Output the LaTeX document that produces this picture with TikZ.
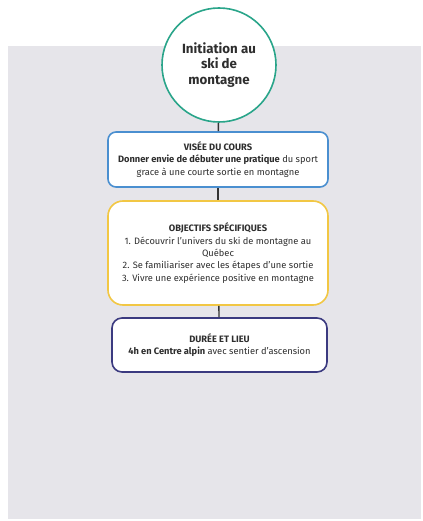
\documentclass[tikz,border=0pt]{standalone}
\usepackage{fontspec}
\setmainfont{Fira Sans}
\usetikzlibrary{positioning}
\definecolor{fondgris}{HTML}{E6E5EA}
\definecolor{vertcours}{HTML}{2AA58A}
\definecolor{bleuvisee}{HTML}{4A8FD0}
\definecolor{jauneobj}{HTML}{F2C744}
\definecolor{marinelieu}{HTML}{3B3A80}
\definecolor{trait}{HTML}{333333}
\definecolor{texte}{HTML}{2E2E2E}
\tikzset{
    titre/.style={circle, draw=vertcours, line width=1.6bp, fill=white,
        minimum size=114bp, inner sep=0pt, align=center, text=texte,
        font=\fontsize{13.3bp}{15.5bp}\selectfont\bfseries},
    boite/.style={rectangle, line width=1.6bp, fill=white, align=center,
        inner sep=0pt, text=texte, font=\fontsize{9.3bp}{12.4bp}\selectfont},
    visee/.style={boite, draw=bleuvisee, rounded corners=8bp,
        minimum width=220bp, minimum height=55bp},
    objectifs/.style={boite, draw=jauneobj, rounded corners=15bp,
        minimum width=220bp, minimum height=104bp},
    lieu/.style={boite, draw=marinelieu, rounded corners=10bp,
        minimum width=215bp, minimum height=54bp},
    lien/.style={draw=trait, line width=1.4bp},
}

\begin{document}
\begin{tikzpicture}[x=1bp, y=-1bp]
\useasboundingbox (0,0) rectangle (422,521);
\fill [fondgris] (8,46) rectangle (421,519);

\node [titre] (cours) at (219,65) {Initiation au\\ski de\\montagne};

\node [visee] (visee) at (218,159.5) {\textbf{VISÉE DU COURS}\\
    \textbf{Donner envie de débuter une pratique} du sport\\
    grace à une courte sortie en montagne};

\node [objectifs] (objectifs) at (218,253) {\textbf{OBJECTIFS SPÉCIFIQUES}\\
    1. Découvrir l'univers du ski de montagne au\\
    Québec\\
    2. Se familiariser avec les étapes d'une sortie\\
    3. Vivre une expérience positive en montagne};

\node [lieu] (lieu) at (219.5,345) {\textbf{DURÉE ET LIEU}\\
    \textbf{4h en Centre alpin} avec sentier d'ascension};

\draw [lien] (cours) -- (visee);
\draw [lien] (visee) -- (objectifs);
\draw [lien] (objectifs) -- (lieu);
\end{tikzpicture}
\end{document}
